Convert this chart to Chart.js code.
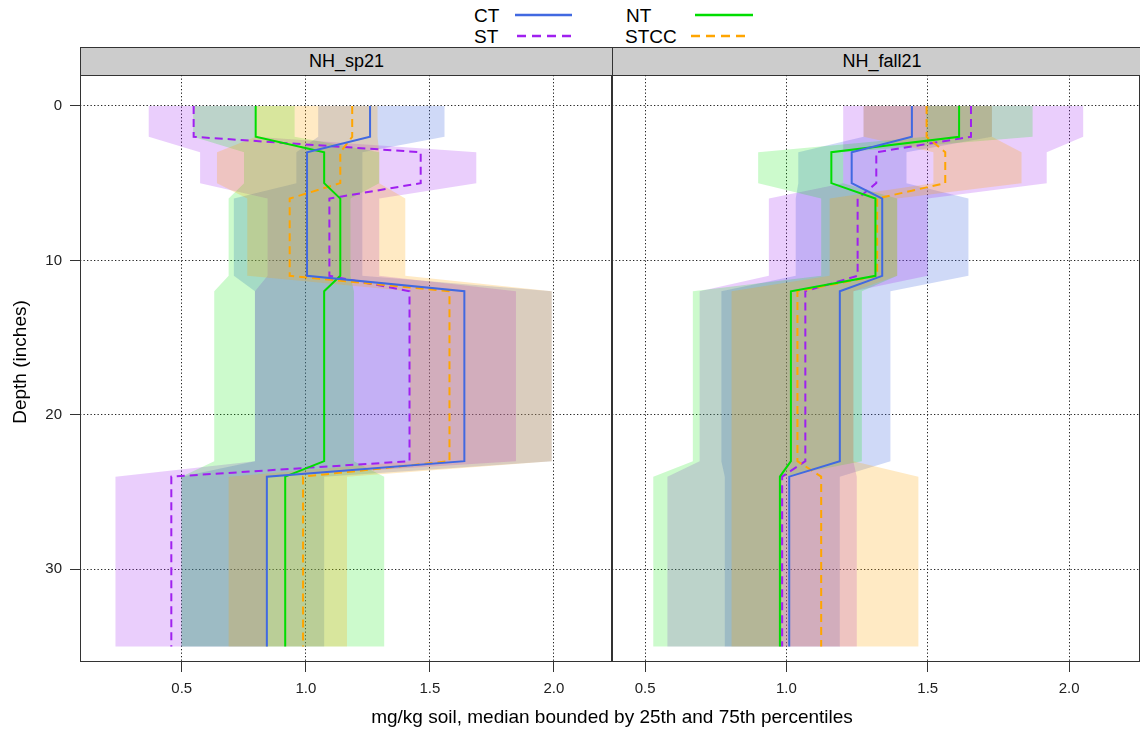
<!DOCTYPE html>
<html>
<head>
<meta charset="utf-8">
<script src="https://cdn.jsdelivr.net/npm/chart.js@4.4.1/dist/chart.umd.min.js"></script>
<style>
  body { margin: 0; width: 1140px; height: 734px; overflow: hidden; background: #fff;
         font-family: "Liberation Sans", Arial, sans-serif; position: relative; color: #000; }
  .abs { position: absolute; }
  .leg { font-size: 19px; line-height: 19px; }
  .strip { background: #cccccc; border: 1px solid #333; box-sizing: border-box; height: 29px;
           font-size: 18px; line-height: 27px; text-align: center; }
  canvas { position: absolute; }
</style>
</head>
<body>

<!-- legend -->
<div class="abs leg" style="left:474px;top:6px">CT</div>
<svg class="abs" style="left:514px;top:9px" width="60" height="12"><line x1="1" y1="6" x2="58" y2="6" stroke="#4169E1" stroke-width="2.5"/></svg>
<div class="abs leg" style="left:626px;top:6px">NT</div>
<svg class="abs" style="left:694px;top:9px" width="62" height="12"><line x1="1" y1="6" x2="59" y2="6" stroke="#00DD00" stroke-width="2.5"/></svg>
<div class="abs leg" style="left:474px;top:27px">ST</div>
<svg class="abs" style="left:514px;top:30px" width="60" height="12"><line x1="3" y1="6" x2="58" y2="6" stroke="#A020F0" stroke-width="2.5" stroke-dasharray="9,6"/></svg>
<div class="abs leg" style="left:625px;top:27px">STCC</div>
<svg class="abs" style="left:688px;top:30px" width="64" height="12"><line x1="3" y1="6" x2="62" y2="6" stroke="#FFA500" stroke-width="2.5" stroke-dasharray="9,6"/></svg>

<!-- strips -->
<div class="abs strip" id="strip0" style="left:80px;top:47px;width:533px"></div>
<div class="abs strip" id="strip1" style="left:612px;top:47px;width:540px"></div>

<canvas id="c0" width="612" height="659" style="left:0;top:75px"></canvas>
<canvas id="c1" width="528" height="659" style="left:612px;top:75px"></canvas>

<div class="abs" style="left:0;top:352px;width:40px;height:20px">
  <div style="position:absolute;left:20px;top:10px;transform:translate(-50%,-50%) rotate(-90deg);white-space:nowrap;font-size:19px">Depth (inches)</div>
</div>
<div class="abs" style="left:0;top:706px;width:1224px;text-align:center;font-size:19px">mg/kg soil, median bounded by 25th and 75th percentiles</div>

<script>
// panels and groups
const panels = ["NH_sp21", "NH_fall21"];
const groups = ["CT", "NT", "ST", "STCC"];
const lineColors = ["#4169E1", "#00DD00", "#A020F0", "#FFA500"];
const bandColors = ["rgba(65,105,225,0.25)", "rgba(0,230,0,0.2)", "rgba(160,32,240,0.22)", "rgba(255,165,0,0.23)"];

// depth layers (inches)
const layerTop = [0, 3, 6, 12, 24];
const layerBottom = [2, 5, 11, 23, 35];

// NH_sp21 : 25th, median, 75th percentile per layer
const spCT_q25 = [1.05, 0.962, 0.71, 0.795, 0.499];
const spCT_med = [1.259, 1.005, 1.005, 1.639, 0.843];
const spCT_q75 = [1.559, 1.228, 1.228, 1.991, 1.074];
const spNT_q25 = [0.546, 0.751, 0.689, 0.631, 0.499];
const spNT_med = [0.798, 1.074, 1.139, 1.074, 0.917];
const spNT_q75 = [0.955, 1.296, 1.18, 1.194, 1.316];
const spST_q25 = [0.367, 0.574, 0.846, 0.795, 0.233];
const spST_med = [0.548, 1.463, 1.095, 1.418, 0.458];
const spST_q75 = [0.798, 1.687, 1.296, 1.847, 0.846];
const spSTCC_q25 = [0.798, 0.642, 0.764, 1.42, 0.689];
const spSTCC_med = [1.187, 1.139, 0.935, 1.579, 0.989];
const spSTCC_q75 = [1.289, 1.296, 1.401, 1.991, 1.166];

// NH_fall21
const faCT_q25 = [1.273, 1.042, 1.033, 0.77, 0.782];
const faCT_med = [1.444, 1.231, 1.339, 1.189, 1.01];
const faCT_q75 = [1.727, 1.425, 1.644, 1.368, 1.189];
const faNT_q25 = [1.494, 0.9, 1.123, 0.669, 0.529];
const faNT_med = [1.611, 1.159, 1.315, 1.016, 0.977];
const faNT_q75 = [1.871, 1.201, 1.392, 1.267, 0.985];
const faST_q25 = [1.201, 1.201, 0.938, 0.693, 0.579];
const faST_med = [1.653, 1.318, 1.252, 1.067, 0.985];
const faST_q75 = [2.05, 1.921, 1.5, 1.237, 1.249];
const faSTCC_q25 = [1.273, 1.52, 1.153, 0.806, 0.806];
const faSTCC_med = [1.496, 1.562, 1.321, 1.039, 1.123];
const faSTCC_q75 = [1.727, 1.832, 1.392, 1.237, 1.467];

// ticks
const xTicks = [0.5, 1.0, 1.5, 2.0];
const xTickLabels = ["0.5", "1.0", "1.5", "2.0"];
const yTicks = [0, 10, 20, 30];
const yTickLabels = ["0", "10", "20", "30"];

const panelData = [
  { q25: [spCT_q25, spNT_q25, spST_q25, spSTCC_q25], med: [spCT_med, spNT_med, spST_med, spSTCC_med], q75: [spCT_q75, spNT_q75, spST_q75, spSTCC_q75], xmin: 0.09, xmax: 2.234 },
  { q25: [faCT_q25, faNT_q25, faST_q25, faSTCC_q25], med: [faCT_med, faNT_med, faST_med, faSTCC_med], q75: [faCT_q75, faNT_q75, faST_q75, faSTCC_q75], xmin: 0.383, xmax: 2.251 }
];

function profile(vals) {
  const pts = [];
  vals.forEach((v, i) => { pts.push({x: v, y: layerTop[i]}); pts.push({x: v, y: layerBottom[i]}); });
  return pts;
}
function band(lo, hi) {
  const pts = profile(lo);
  return pts.concat(profile(hi).reverse());
}

const panelBox = {
  id: 'panelBox',
  afterDraw(chart) {
    const a = chart.chartArea, c = chart.ctx;
    c.save();
    c.strokeStyle = '#333';
    c.lineWidth = 1;
    c.strokeRect(a.left + 0.5, a.top - 0.5, a.right - a.left - 1, a.bottom - a.top);
    c.restore();
  }
};

// line drawing order on top: CT, NT, STCC, ST
const lineOrder = [0, 1, 3, 2];
// band fill order (higher drawn first): CT, ST, NT, STCC
const bandOrder = [20, 18, 19, 17];

function makePanel(p) {
  const d = panelData[p];
  const datasets = [];
  groups.forEach((g, i) => {
    datasets.push({
      label: g + ' median',
      data: profile(d.med[i]),
      borderColor: lineColors[i],
      borderWidth: 2,
      borderDash: (g === 'ST' || g === 'STCC') ? [8, 5] : [],
      pointRadius: 0,
      fill: false,
      order: lineOrder[i]
    });
  });
  groups.forEach((g, i) => {
    datasets.push({
      label: g + ' band',
      data: band(d.q25[i], d.q75[i]),
      borderColor: 'rgba(0,0,0,0)',
      borderWidth: 0,
      backgroundColor: bandColors[i],
      pointRadius: 0,
      fill: 'shape',
      order: bandOrder[i]
    });
  });

  const first = p === 0;
  document.getElementById('strip' + p).textContent = panels[p];

  new Chart(document.getElementById('c' + p), {
    type: 'line',
    data: { datasets },
    options: {
      responsive: false,
      animation: false,
      indexAxis: 'y',
      layout: { padding: 0 },
      plugins: { legend: { display: false }, tooltip: { enabled: false } },
      scales: {
        x: {
          type: 'linear', min: d.xmin, max: d.xmax,
          afterBuildTicks: s => { s.ticks = xTicks.map(v => ({value: v})); },
          afterFit: s => { s.height = 72; s.paddingLeft = 0; s.paddingRight = 0; },
          ticks: {
            callback: (v, i) => xTickLabels[i],
            font: { family: 'Liberation Sans', size: 15 }, color: '#222', padding: 8, maxRotation: 0, autoSkip: false
          },
          grid: { color: '#222', lineWidth: 1, drawTicks: true, tickLength: 10, tickColor: '#333', tickBorderDash: [] },
          border: { display: false, dash: [1.3, 2.2] }
        },
        y: {
          type: 'linear', reverse: true, min: -2, max: 36,
          afterBuildTicks: s => { s.ticks = yTicks.map(v => ({value: v})); },
          afterFit: s => { s.width = first ? 80 : 0; s.paddingTop = 0; s.paddingBottom = 0; },
          ticks: {
            display: first,
            callback: (v, i) => yTickLabels[i],
            font: { family: 'Liberation Sans', size: 15 }, color: '#222', padding: 8
          },
          grid: { color: '#222', lineWidth: 1, drawTicks: first, tickLength: 10, tickColor: '#333', tickBorderDash: [] },
          border: { display: false, dash: [1.3, 2.2] }
        }
      }
    },
    plugins: [panelBox]
  });
}

makePanel(0);
makePanel(1);
</script>
</body>
</html>
